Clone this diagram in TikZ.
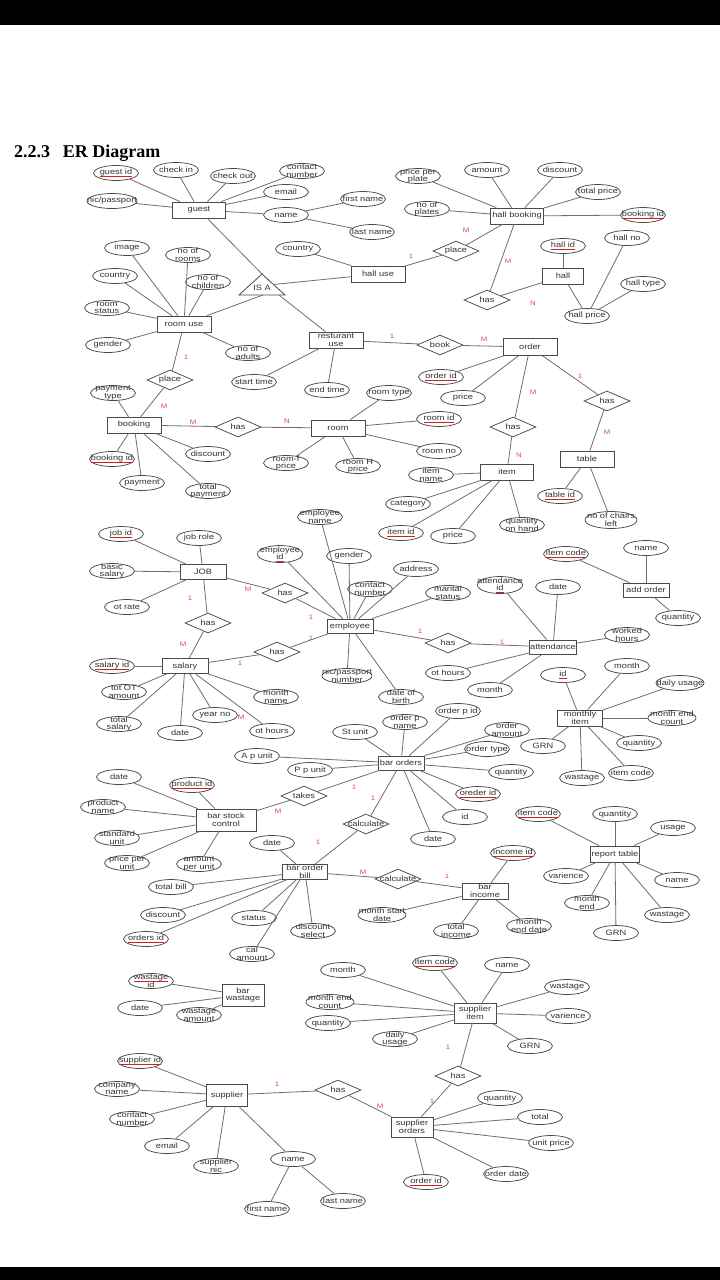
\documentclass[tikz,border=0pt]{standalone}
\usepackage{fontspec}
\setmainfont{Liberation Sans}
\newfontfamily\df{Liberation Sans}[FakeStretch=1.2]
\newfontfamily\ttl{Liberation Serif}
\usetikzlibrary{shapes.geometric}
\definecolor{ln}{HTML}{6E6E6E}
\definecolor{bd}{HTML}{4A4A4A}
\definecolor{tx}{HTML}{333333}
\definecolor{cd}{HTML}{E04848}
\definecolor{ul}{HTML}{D02020}
\newcommand\ku[1]{\setbox0=\hbox{#1}\rlap{\textcolor{ul}{\rule[-1.8pt]{\wd0}{0.6pt}}}\box0}
\tikzset{
 attr/.style={ellipse, draw=bd, line width=0.75pt, minimum width=45pt, minimum height=15pt, inner sep=0pt},
 lbl/.style={font=\df\fontsize{7.7}{7.6}\selectfont, text=tx, align=center, inner sep=0pt},
 ent/.style={rectangle, draw=bd, line width=0.8pt, minimum width=54pt, minimum height=16pt, inner sep=0.5pt, font=\df\fontsize{7.7}{7.6}\selectfont, text=tx, align=center},
 rel/.style={diamond, draw=bd, line width=0.75pt, minimum width=46pt, minimum height=20pt, inner sep=0pt},
 conn/.style={draw=ln, line width=0.8pt},
 card/.style={font=\df\fontsize{6.5}{6.5}\selectfont, text=cd, inner sep=0pt},
}
\newcommand\A[4][]{\node[attr,#1] (#2) at (#3) {}; \node[lbl] (#2t) at (#2.center) {#4};}
\newcommand\R[3]{\node[rel] (#1) at (#2) {}; \node[lbl] (#1t) at (#1.center) {#3};}
\newcommand\C[3]{\node[card] (#1) at (#2) {#3};}
\begin{document}
\begin{tikzpicture}[x=1pt,y=-1pt]
\useasboundingbox (0,0) rectangle (720,1280);
\fill[white] (0,0) rectangle (720,1280);
\fill[black] (0,0) rectangle (720,25);
\fill[black] (0,1267) rectangle (720,1280);
\node[anchor=base west, font=\ttl\bfseries\fontsize{18}{18}\selectfont, inner sep=0pt] (title) at (14,157) {2.2.3\hspace{0.7em}ER Diagram};

% ---------- guest ----------
\node[ent, minimum width=53pt] (e_guest) at (199,210) {guest};
\A{a_guestid}{116,173}{\ku{guest id}}
\A{a_checkin}{176,170}{check in}
\A{a_checkout}{233,176}{check out}
\A{a_gcontact}{302,171}{contact\\number}
\A{a_gemail}{286,192}{email}
\A{a_gname}{286,215}{name}
\A[minimum width=50pt]{a_gnic}{112,201}{nic/passport}
\A{a_gfirst}{363,199}{first name}
\A{a_glast}{372,232}{last name}

% ---------- hall ----------
\A{a_hcountry}{298,249}{country}
\node[ent] (e_halluse) at (378,274) {hall use};
\R{r_place1}{456,251}{place}
\node[ent, minimum width=53pt] (e_hallbook) at (517,216) {hall booking};
\A{a_ppp}{418,176}{price per\\plate}
\A{a_amount}{487,170}{amount}
\A{a_hdiscount}{560,170}{discount}
\A{a_totalprice}{598,192}{total price}
\A{a_noplates}{427,209}{no of\\plates}
\A{a_hbookid}{643,215}{\ku{booking id}}
\A{a_hallid}{563,246}{\ku{hall id}}
\A{a_hallno}{627,238}{hall no}
\node[ent, minimum width=41pt] (e_hall) at (563,276) {hall};
\A{a_halltype}{643,284}{hall type}
\R{r_has1}{487,300}{has}
\A{a_hallprice}{587,316}{hall price}
\C{c1}{466,230}{M}
\C{c2}{411,256}{1}
\C{c3}{508,261}{M}
\C{c4}{533,303}{N}

% ---------- room use ----------
\A{a_image}{127,248}{image}
\A{a_norooms}{188,255}{no of\\rooms}
\A{a_rcountry}{115,276}{country}
\A{a_nochildren}{208,282}{no of\\children}
\A{a_roomstatus}{107,308}{room\\status}
\node[ent] (e_roomuse) at (184,324) {room use};
\draw[draw=bd, line width=0.8pt] (262,274) -- (285,295) -- (239,295) -- cycle;
\node[lbl] (isa) at (262,288) {IS A};
\coordinate (isaT) at (262,274);
\coordinate (isaR) at (273.5,284.5);
\coordinate (isaB) at (263,295);
\coordinate (isaBR) at (279,295);
\A{a_gender1}{108,345}{gender}
\A{a_noadults}{248,353}{no of\\adults}
\node[ent] (e_restuse) at (336,340) {resturant\\use};
\R{r_place2}{170,380}{place}
\A{a_starttime}{254,382}{start time}
\A{a_endtime}{327,390}{end time}
\R{r_book}{440,345}{book}
\node[ent, minimum height=17pt] (e_order) at (530,347) {order};
\A{a_paytype}{113,393}{payment\\type}
\node[ent] (e_booking) at (134,425) {booking};
\R{r_has2}{238,427}{has}
\node[ent] (e_room) at (338,428) {room};
\A{a_bbookid}{112,459}{\ku{booking id}}
\A{a_bdiscount}{208,454}{discount}
\A{a_payment}{142,483}{payment}
\A{a_totalpay}{208,491}{total\\payment}
\A{a_roomf}{286,463}{room-f\\price}
\A{a_roomh}{358,466}{room H\\price}
\A{a_roomtype}{389,393}{room type}
\A{a_roomid}{439,419}{\ku{room id}}
\A{a_roomno}{439,451}{room no}
\A{a_orderid}{441,377}{\ku{order id}}
\A{a_oprice}{463,398}{price}
\R{r_has3}{513,427}{has}
\R{r_has4}{607,401}{has}
\node[ent] (e_table) at (587,459) {table};
\node[ent, minimum width=53pt] (e_item) at (507,472) {item};
\A{a_itemname}{431,475}{item\\name}
\A{a_tableid}{560,496}{\ku{table id}}
\A{a_category}{408,504}{category}
\A[minimum width=52pt, minimum height=17pt]{a_chairs}{611,520}{no of chairs\\left}
\A{a_itemid}{401,533}{\ku{item id}}
\A{a_iprice}{453,536}{price}
\A{a_qoh}{522,525}{quantity\\on hand}
\C{c5}{186,357}{1}
\C{c6}{164,406}{M}
\C{c7}{193,422}{M}
\C{c8}{287,421}{N}
\C{c9}{392,336}{1}
\C{c10}{484,339}{M}
\C{c11}{580,376}{1}
\C{c12}{533,392}{M}
\C{c13}{607,432}{M}
\C{c14}{519,455}{N}

% ---------- employee ----------
\A{a_empname}{320,517}{employee\\name}
\A{a_jobid}{121,534}{\ku{job id}}
\A{a_jobrole}{199,538}{job role}
\A[minimum height=17pt]{a_empid}{280,554}{employee\\\ku{id}}
\A{a_egender}{349,556}{gender}
\A{a_address}{416,569}{address}
\A{a_itemcode1}{566,554}{\ku{item code}}
\A{a_aoname}{646,548}{name}
\node[ent, minimum width=46pt, minimum height=15pt] (e_job) at (203,572) {JOB};
\A{a_basic}{112,571}{basic\\salary}
\A{a_econtact}{370,589}{contact\\number}
\A{a_marital}{448,593}{marital\\status}
\A[minimum height=17pt]{a_attid}{500,585}{attendance\\\ku{id}}
\A{a_attdate}{558,587}{date}
\node[ent, minimum width=46pt, minimum height=14pt] (e_addorder) at (646,590) {add order};
\R{r_has5}{285,593}{has}
\A{a_otrate}{127,607}{ot rate}
\A{a_aoqty}{678,618}{quantity}
\R{r_has6}{208,623}{has}
\node[ent, minimum width=46pt, minimum height=14pt] (e_employee) at (350,626) {employee};
\A{a_worked}{627,635}{worked\\hours}
\R{r_has7}{448,643}{has}
\node[ent, minimum width=46pt, minimum height=14pt] (e_attendance) at (553,647) {attendance};
\R{r_has8}{277,652}{has}
\node[ent, minimum width=46pt, minimum height=15pt] (e_salary) at (185,666) {salary};
\A{a_salaryid}{112,666}{\ku{salary id}}
\A{a_emonth}{627,666}{month}
\A{a_eothours}{448,673}{ot hours}
\A[minimum width=50pt]{a_enic}{347,676}{nic/passport\\number}
\A{a_mid}{563,675}{\ku{id}}
\A[minimum width=48pt]{a_dailyusage1}{680,683}{daily usage}
\A{a_amonth}{490,690}{month}
\A{a_totot}{124,692}{tot OT\\amount}
\A{a_monthname}{276,697}{month\\name}
\A{a_dob}{401,697}{date of\\birth}
\C{c15}{248,589}{M}
\C{c16}{311,617}{1}
\C{c17}{190,598}{1}
\C{c18}{183,644}{M}
\C{c19}{311,638}{1}
\C{c20}{240,663}{1}
\C{c21}{420,631}{1}
\C{c22}{502,642}{1}
\C{c23}{241,717}{M}

% ---------- bar ----------
\A{a_orderpid}{458,711}{order p id}
\A{a_yearno}{215,715}{year no}
\A{a_orderpname}{405,722}{order p\\name}
\node[ent, minimum width=45pt] (e_monthly) at (580,718) {monthly\\item};
\A[minimum width=48pt]{a_mec1}{672,718}{month end\\count}
\A{a_totsal}{119,724}{total\\salary}
\A{a_orderamt}{507,730}{order\\amount}
\A{a_sothours}{272,731}{ot hours}
\A{a_stunit}{355,732}{St unit}
\A{a_sdate}{180,733}{date}
\A{a_mqty}{639,743}{quantity}
\A{a_mgrn}{543,746}{GRN}
\A{a_ordertype}{487,749}{order type}
\A{a_apunit}{257,756}{A p unit}
\node[ent, minimum width=46pt, minimum height=14pt] (e_barorders) at (401,763) {bar orders};
\A{a_boqty}{511,772}{quantity}
\A{a_pounit}{310,770}{P p unit}
\A{a_mitemcode}{631,773}{item code}
\A{a_mwastage}{582,778}{wastage}
\A{a_bsdate}{119,777}{date}
\A{a_productid}{192,785}{\ku{product id}}
\A{a_orederid}{478,794}{\ku{oreder id}}
\R{r_takes}{304,796}{takes}
\A{a_productname}{103,807}{product\\name}
\A{a_rtitemcode}{538,814}{\ku{item code}}
\A{a_rtqty}{615,814}{quantity}
\A{a_boid}{465,817}{id}
\node[ent, minimum width=60pt, minimum height=22pt] (e_barstock) at (226,820) {bar stock\\control};
\R{r_calc1}{366,824}{calculate}
\A{a_usage}{673,828}{usage}
\A{a_stdunit}{117,838}{standard\\unit}
\A{a_bodate}{433,839}{date}
\A{a_bobdate}{272,843}{date}
\A{a_incomeid}{513,853}{\ku{income id}}
\node[ent, minimum width=49pt] (e_report) at (615,854) {report table};
\A{a_ppu}{127,863}{price per\\unit}
\A{a_apu}{199,864}{amount\\per unit}
\node[ent, minimum width=45pt, minimum height=13pt] (e_barbill) at (305,872) {bar order\\bill};
\R{r_calc2}{398,879}{calculate}
\A{a_varience1}{566,876}{varience}
\A{a_rname}{677,880}{name}
\A{a_totalbill}{171,887}{total bill}
\node[ent, minimum width=46pt] (e_barincome) at (485,891) {bar\\income};
\A{a_monthend}{587,903}{month\\end}
\A[minimum width=48pt]{a_msd}{382,915}{month start\\date}
\A{a_bdisc}{163,915}{discount}
\A{a_rwastage}{667,915}{wastage}
\A{a_status}{254,918}{status}
\A{a_med}{529,926}{month\\end date}
\A{a_totinc}{456,931}{total\\income}
\A{a_dselect}{313,931}{discount\\select}
\A{a_rgrn}{616,933}{GRN}
\A{a_ordersid}{146,939}{\ku{orders id}}
\A{a_calamount}{252,954}{cal\\amount}
\A{a_sicode}{435,963}{\ku{item code}}
\A{a_siname}{507,965}{name}
\A{a_smonth}{343,970}{month}
\A{a_wastageid}{151,981}{\ku{wastage}\\id}
\A{a_siwastage}{567,987}{wastage}
\node[ent, minimum width=42pt, minimum height=22pt] (e_barwastage) at (243,995) {bar\\wastage};
\A[minimum width=48pt]{a_smec}{330,1002}{month end\\count}
\A{a_bwdate}{140,1008}{date}
\node[ent, minimum width=42pt, minimum height=20pt] (e_supitem) at (475,1013) {supplier\\item};
\A{a_wamount}{199,1015}{wastage\\amount}
\A{a_sivar}{568,1016}{varience}
\A{a_sqty}{328,1023}{quantity}
\A{a_sdaily}{395,1039}{daily\\usage}
\A{a_sgrn}{530,1046}{GRN}
\C{c24}{354,787}{1}
\C{c25}{278,811}{M}
\C{c26}{373,798}{1}
\C{c27}{318,842}{1}
\C{c28}{363,872}{M}
\C{c29}{447,876}{1}
\C{c30}{448,1047}{1}

% ---------- supplier ----------
\A{a_supid}{140,1061}{\ku{supplier id}}
\R{r_has9}{458,1076}{has}
\A{a_compname}{117,1089}{company\\name}
\R{r_has10}{338,1090}{has}
\node[ent, minimum width=41pt, minimum height=22pt] (e_supplier) at (227,1095) {supplier};
\A{a_soqty}{500,1098}{quantity}
\A{a_sototal}{540,1117}{total}
\A{a_scontact}{132,1119}{contact\\number}
\node[ent, minimum width=42pt, minimum height=20pt] (e_suporders) at (412,1127) {supplier\\orders};
\A{a_sounit}{551,1143}{unit price}
\A{a_semail}{167,1146}{email}
\A{a_sname}{293,1159}{name}
\A{a_snic}{216,1166}{supplier\\nic}
\A{a_sodate}{506,1174}{order date}
\A{a_soid}{426,1182}{\ku{order id}}
\A{a_sfirst}{267,1209}{first name}
\A{a_slast}{343,1201}{last name}
\C{c31}{277,1084}{1}
\C{c32}{432,1101}{1}
\C{c33}{380,1106}{M}

% ---------- connectors ----------
\foreach \b in {a_guestid,a_checkin,a_checkout,a_gcontact,a_gemail,a_gname,a_gnic,isaT}
  \draw[conn] (e_guest) -- (\b);
\foreach \b in {a_gfirst,a_glast} \draw[conn] (a_gname) -- (\b);
\foreach \b in {a_hcountry,r_place1,isaR} \draw[conn] (e_halluse) -- (\b);
\foreach \b in {r_place1,a_ppp,a_amount,a_hdiscount,a_totalprice,a_noplates,a_hbookid,r_has1}
  \draw[conn] (e_hallbook) -- (\b);
\foreach \b in {r_has1,a_hallid,a_hallprice} \draw[conn] (e_hall) -- (\b);
\foreach \b in {a_hallno,a_halltype} \draw[conn] (a_hallprice) -- (\b);
\foreach \b in {a_image,a_norooms,a_rcountry,a_nochildren,a_roomstatus,a_gender1,a_noadults,r_place2,isaB}
  \draw[conn] (e_roomuse) -- (\b);
\foreach \b in {r_place2,a_paytype,a_bbookid,a_payment,a_totalpay,a_bdiscount,r_has2}
  \draw[conn] (e_booking) -- (\b);
\foreach \b in {r_has2,a_roomf,a_roomh,a_roomtype,a_roomid,a_roomno}
  \draw[conn] (e_room) -- (\b);
\foreach \b in {isaBR,a_starttime,a_endtime,r_book} \draw[conn] (e_restuse) -- (\b);
\foreach \b in {r_book,a_orderid,a_oprice,r_has3,r_has4} \draw[conn] (e_order) -- (\b);
\foreach \b in {r_has4,a_tableid,a_chairs} \draw[conn] (e_table) -- (\b);
\foreach \b in {r_has3,a_itemname,a_category,a_itemid,a_iprice,a_qoh} \draw[conn] (e_item) -- (\b);
\foreach \b in {a_empname,a_empid,a_egender,a_econtact,a_address,a_marital,a_enic,a_dob,r_has5,r_has8,r_has7}
  \draw[conn] (e_employee) -- (\b);
\foreach \b in {a_jobid,a_jobrole,a_basic,a_otrate,r_has5,r_has6} \draw[conn] (e_job) -- (\b);
\foreach \b in {r_has6,r_has8,a_salaryid,a_totot,a_totsal,a_sdate,a_yearno,a_sothours,a_monthname}
  \draw[conn] (e_salary) -- (\b);
\foreach \b in {r_has7,a_attid,a_attdate,a_worked,a_eothours,a_amonth} \draw[conn] (e_attendance) -- (\b);
\foreach \b in {a_itemcode1,a_aoname,a_aoqty} \draw[conn] (e_addorder) -- (\b);
\foreach \b in {a_emonth,a_mid,a_dailyusage1,a_mec1,a_mqty,a_mitemcode,a_mwastage,a_mgrn}
  \draw[conn] (e_monthly) -- (\b);
\foreach \b in {a_stunit,a_apunit,a_pounit,a_orderpname,a_orderpid,a_orderamt,a_ordertype,a_boqty,a_orederid,a_boid,a_bodate,r_takes,r_calc1}
  \draw[conn] (e_barorders) -- (\b);
\foreach \b in {r_takes,a_bsdate,a_productid,a_productname,a_stdunit,a_ppu,a_apu}
  \draw[conn] (e_barstock) -- (\b);
\foreach \b in {r_calc1,a_bobdate,a_totalbill,a_bdisc,a_ordersid,a_status,a_calamount,a_dselect,r_calc2}
  \draw[conn] (e_barbill) -- (\b);
\foreach \b in {r_calc2,a_incomeid,a_msd,a_totinc,a_med} \draw[conn] (e_barincome) -- (\b);
\foreach \b in {a_rtitemcode,a_rtqty,a_usage,a_varience1,a_rname,a_monthend,a_rwastage,a_rgrn}
  \draw[conn] (e_report) -- (\b);
\foreach \b in {a_wastageid,a_bwdate,a_wamount} \draw[conn] (e_barwastage) -- (\b);
\foreach \b in {a_sicode,a_siname,a_siwastage,a_sivar,a_sgrn,a_sdaily,a_sqty,a_smec,a_smonth,r_has9}
  \draw[conn] (e_supitem) -- (\b);
\foreach \b in {r_has9,a_soqty,a_sototal,a_sounit,a_sodate,a_soid,r_has10}
  \draw[conn] (e_suporders) -- (\b);
\foreach \b in {r_has10,a_supid,a_compname,a_scontact,a_semail,a_snic,a_sname}
  \draw[conn] (e_supplier) -- (\b);
\foreach \b in {a_sfirst,a_slast} \draw[conn] (a_sname) -- (\b);
\end{tikzpicture}
\end{document}
